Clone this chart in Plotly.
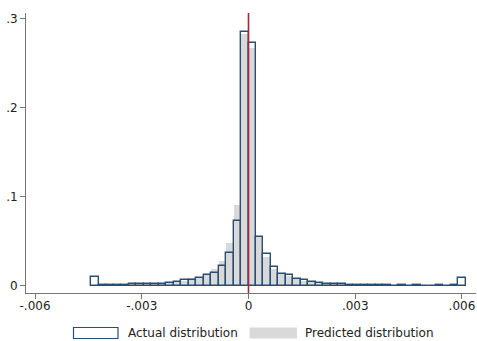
import plotly.graph_objects as go

# Histogram bins: index k covers [k*BIN_W, (k+1)*BIN_W]
BIN_W = 0.006 / 28.5
bin_index = list(range(-21, 29))

actual = [
    0.0098, 0.0007, 0.0015, 0.0008, 0.0010, 0.0020, 0.0017, 0.0018, 0.0020, 0.0022,
    0.0039, 0.0045, 0.0069, 0.0070, 0.0088, 0.0120, 0.0147, 0.0227, 0.0368, 0.0730,
    0.2850,
    0.2734, 0.0555, 0.0362, 0.0215, 0.0140, 0.0118, 0.0080, 0.0062, 0.0047, 0.0030,
    0.0026, 0.0026, 0.0019, 0.0015, 0.0011, 0.0010, 0.0010, 0.0008, 0.0006, 0.0005,
    0.0008, 0.0005, 0.0008, 0.0005, 0.0005, 0.0006, 0.0005, 0.0006, 0.0093,
]
predicted = [
    0.0000, 0.0006, 0.0010, 0.0010, 0.0012, 0.0015, 0.0018, 0.0020, 0.0022, 0.0026,
    0.0032, 0.0042, 0.0058, 0.0084, 0.0100, 0.0135, 0.0195, 0.0285, 0.0480, 0.0905,
    0.2830,
    0.2678, 0.0555, 0.0326, 0.0190, 0.0135, 0.0110, 0.0076, 0.0058, 0.0042, 0.0032,
    0.0028, 0.0022, 0.0017, 0.0014, 0.0012, 0.0010, 0.0009, 0.0009, 0.0008, 0.0007,
    0.0007, 0.0006, 0.0006, 0.0006, 0.0005, 0.0005, 0.0005, 0.0005, 0.0000,
]

x_ticks = [-0.006, -0.003, 0, 0.003, 0.006]
x_tick_labels = ["-.006", "-.003", "0", ".003", ".006"]
y_ticks = [0, 0.1, 0.2, 0.3]
y_tick_labels = ["0", ".1", ".2", ".3"]
legend_labels = ["Actual distribution", "Predicted distribution"]

centers = [(k + 0.5) * BIN_W for k in bin_index]

NAVY = "#2a4d72"
GRAY_FILL = "#d9d9d9"
MAROON = "#a02a3a"
AXIS = "#777777"
FONT = "DejaVu Sans"

fig = go.Figure()
fig.add_trace(go.Bar(
    x=centers, y=predicted, width=BIN_W,
    marker=dict(color=GRAY_FILL, line=dict(width=0)),
    name=legend_labels[1], showlegend=False,
))
fig.add_trace(go.Bar(
    x=centers, y=actual, width=BIN_W,
    marker=dict(color="rgba(0,0,0,0)", line=dict(color=NAVY, width=1.4)),
    name=legend_labels[0], showlegend=False,
))

# Reference line at zero
fig.add_shape(type="line", xref="x", yref="paper", x0=0, x1=0, y0=0, y1=1,
              line=dict(color=MAROON, width=1.6))

# Legend drawn below the plot area (plot spans 450 x 280 px)
W, H = 450.0, 280.0
def px(xp):
    return (xp - 26) / W
def py(yp):
    return (293 - yp) / H

LEG_TOP, LEG_BOT = 327.5, 338.5
LEG_MID = (LEG_TOP + LEG_BOT) / 2
fig.add_shape(type="rect", xref="paper", yref="paper",
              x0=px(73.5), x1=px(118), y0=py(LEG_BOT), y1=py(LEG_TOP),
              line=dict(color=NAVY, width=1.2), fillcolor="white")
fig.add_shape(type="rect", xref="paper", yref="paper",
              x0=px(249.5), x1=px(297), y0=py(LEG_BOT), y1=py(LEG_TOP),
              line=dict(width=0), fillcolor=GRAY_FILL)
fig.add_annotation(xref="paper", yref="paper", x=px(126), y=py(LEG_MID),
                   text=legend_labels[0], showarrow=False, xanchor="left",
                   yanchor="middle", font=dict(family=FONT, size=12, color="#222"))
fig.add_annotation(xref="paper", yref="paper", x=px(303), y=py(LEG_MID),
                   text=legend_labels[1], showarrow=False, xanchor="left",
                   yanchor="middle", font=dict(family=FONT, size=12, color="#222"))

fig.update_layout(
    width=477, height=341,
    margin=dict(l=26, r=1, t=13, b=48),
    barmode="overlay", bargap=0,
    plot_bgcolor="white", paper_bgcolor="white",
    font=dict(family=FONT, size=12, color="#222"),
    showlegend=False,
)
fig.update_xaxes(
    range=[(26 - 248.5) / 35.58 / 1000, (476 - 248.5) / 35.58 / 1000],
    tickvals=x_ticks, ticktext=x_tick_labels,
    ticks="outside", ticklen=5, tickcolor=AXIS, tickwidth=1,
    ticklabelstandoff=-3,
    showline=True, linecolor=AXIS, linewidth=1,
    showgrid=False, zeroline=False,
)
fig.update_yaxes(
    range=[-0.0079, 0.3067],
    tickvals=y_ticks, ticktext=y_tick_labels,
    ticks="outside", ticklen=5, tickcolor=AXIS, tickwidth=1,
    showline=True, linecolor=AXIS, linewidth=1,
    showgrid=False, zeroline=False,
)

fig.write_html("out.html")
